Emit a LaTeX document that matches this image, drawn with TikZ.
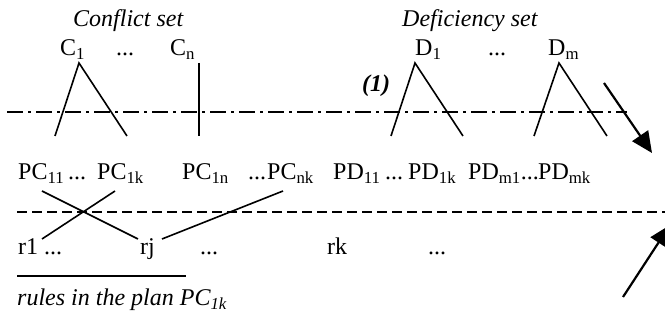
\documentclass[tikz,border=0pt]{standalone}
\usepackage{fontspec}
\setmainfont{Liberation Serif}
\usetikzlibrary{arrows.meta}
\tikzset{
    lbl/.style={anchor=base west, inner sep=0pt, font=\fontsize{24}{28}\selectfont},
    ilbl/.style={lbl, font=\fontsize{24}{28}\selectfont\itshape},
    edge/.style={line width=1.6pt},
    bigarrow/.style={line width=2.2pt, -{Triangle[length=21pt,width=19pt]}},
    levelA/.style={line width=1.6pt, dash pattern=on 16pt off 5pt on 3pt off 5pt},
    levelB/.style={line width=1.6pt, dash pattern=on 10pt off 5pt},
}
\begin{document}
\begin{tikzpicture}[x=1pt, y=-1pt]
    \useasboundingbox (0,0) rectangle (665,320);

    \node[ilbl] (cset) at (73,27) {Conflict set};
    \node[ilbl] (dset) at (402,27) {Deficiency set};

    \node[lbl] (c1) at (60,56) {C\textsubscript{1}};
    \node[lbl] (cdots) at (116,56) {...};
    \node[lbl] (cn) at (170,56) {C\textsubscript{n}};
    \node[lbl, font=\fontsize{24}{28}\selectfont\bfseries\itshape] (one) at (362,92) {(1)};
    \node[lbl] (d1) at (415,56) {D\textsubscript{1}};
    \node[lbl] (ddots) at (488,56) {...};
    \node[lbl] (dm) at (548,56) {D\textsubscript{m}};

    \node[lbl] (pc11) at (18,180) {PC\textsubscript{11}};
    \node[lbl] (pcdotsA) at (68,180) {...};
    \node[lbl] (pc1k) at (97,180) {PC\textsubscript{1k}};
    \node[lbl] (pc1n) at (182,180) {PC\textsubscript{1n}};
    \node[lbl] (pcdotsB) at (248,180) {...};
    \node[lbl] (pcnk) at (267,180) {PC\textsubscript{nk}};
    \node[lbl] (pd11) at (333,180) {PD\textsubscript{11}};
    \node[lbl] (pddotsA) at (385,180) {...};
    \node[lbl] (pd1k) at (408,180) {PD\textsubscript{1k}};
    \node[lbl] (pdm1) at (468,180) {PD\textsubscript{m1}...};
    \node[lbl] (pdmk) at (538,180) {PD\textsubscript{mk}};

    \node[lbl] (r1) at (18,255) {r1 ...};
    \node[lbl] (rj) at (140,255) {rj};
    \node[lbl] (rdotsA) at (200,255) {...};
    \node[lbl] (rk) at (327,255) {rk};
    \node[lbl] (rdotsB) at (428,255) {...};
    \node[ilbl] (plan) at (17,306) {rules in the plan PC\textsubscript{1k}};

    \coordinate (c1top) at (79,63);
    \coordinate (c1l) at (55,136);
    \coordinate (c1r) at (127,136);
    \coordinate (cntop) at (199,63);
    \coordinate (cnbot) at (199,136);
    \coordinate (d1top) at (415,63);
    \coordinate (d1l) at (391,136);
    \coordinate (d1r) at (463,136);
    \coordinate (dmtop) at (559,63);
    \coordinate (dml) at (534,136);
    \coordinate (dmr) at (607,136);

    \draw[edge] (c1l) -- (c1top) -- (c1r);
    \draw[edge] (cntop) -- (cnbot);
    \draw[edge] (d1l) -- (d1top) -- (d1r);
    \draw[edge] (dml) -- (dmtop) -- (dmr);

    \coordinate (pc11b) at (42,191);
    \coordinate (pc1kb) at (115,191);
    \coordinate (pcnkb) at (283,191);
    \coordinate (r1t) at (42,239);
    \coordinate (rjl) at (138,239);
    \coordinate (rjr) at (162,239);

    \draw[edge] (pc11b) -- (rjl);
    \draw[edge] (pc1kb) -- (r1t);
    \draw[edge] (pcnkb) -- (rjr);

    \draw[levelA] (7,112) -- (627,112);
    \draw[levelB] (17,212) -- (665,212);
    \draw[edge] (17,276) -- (186,276);

    \coordinate (arrAs) at (604,83);
    \coordinate (arrAe) at (652,153);
    \coordinate (arrBs) at (623,297);
    \coordinate (arrBe) at (670,225);
    \draw[bigarrow] (arrAs) -- (arrAe);
    \draw[bigarrow] (arrBs) -- (arrBe);
\end{tikzpicture}
\end{document}
